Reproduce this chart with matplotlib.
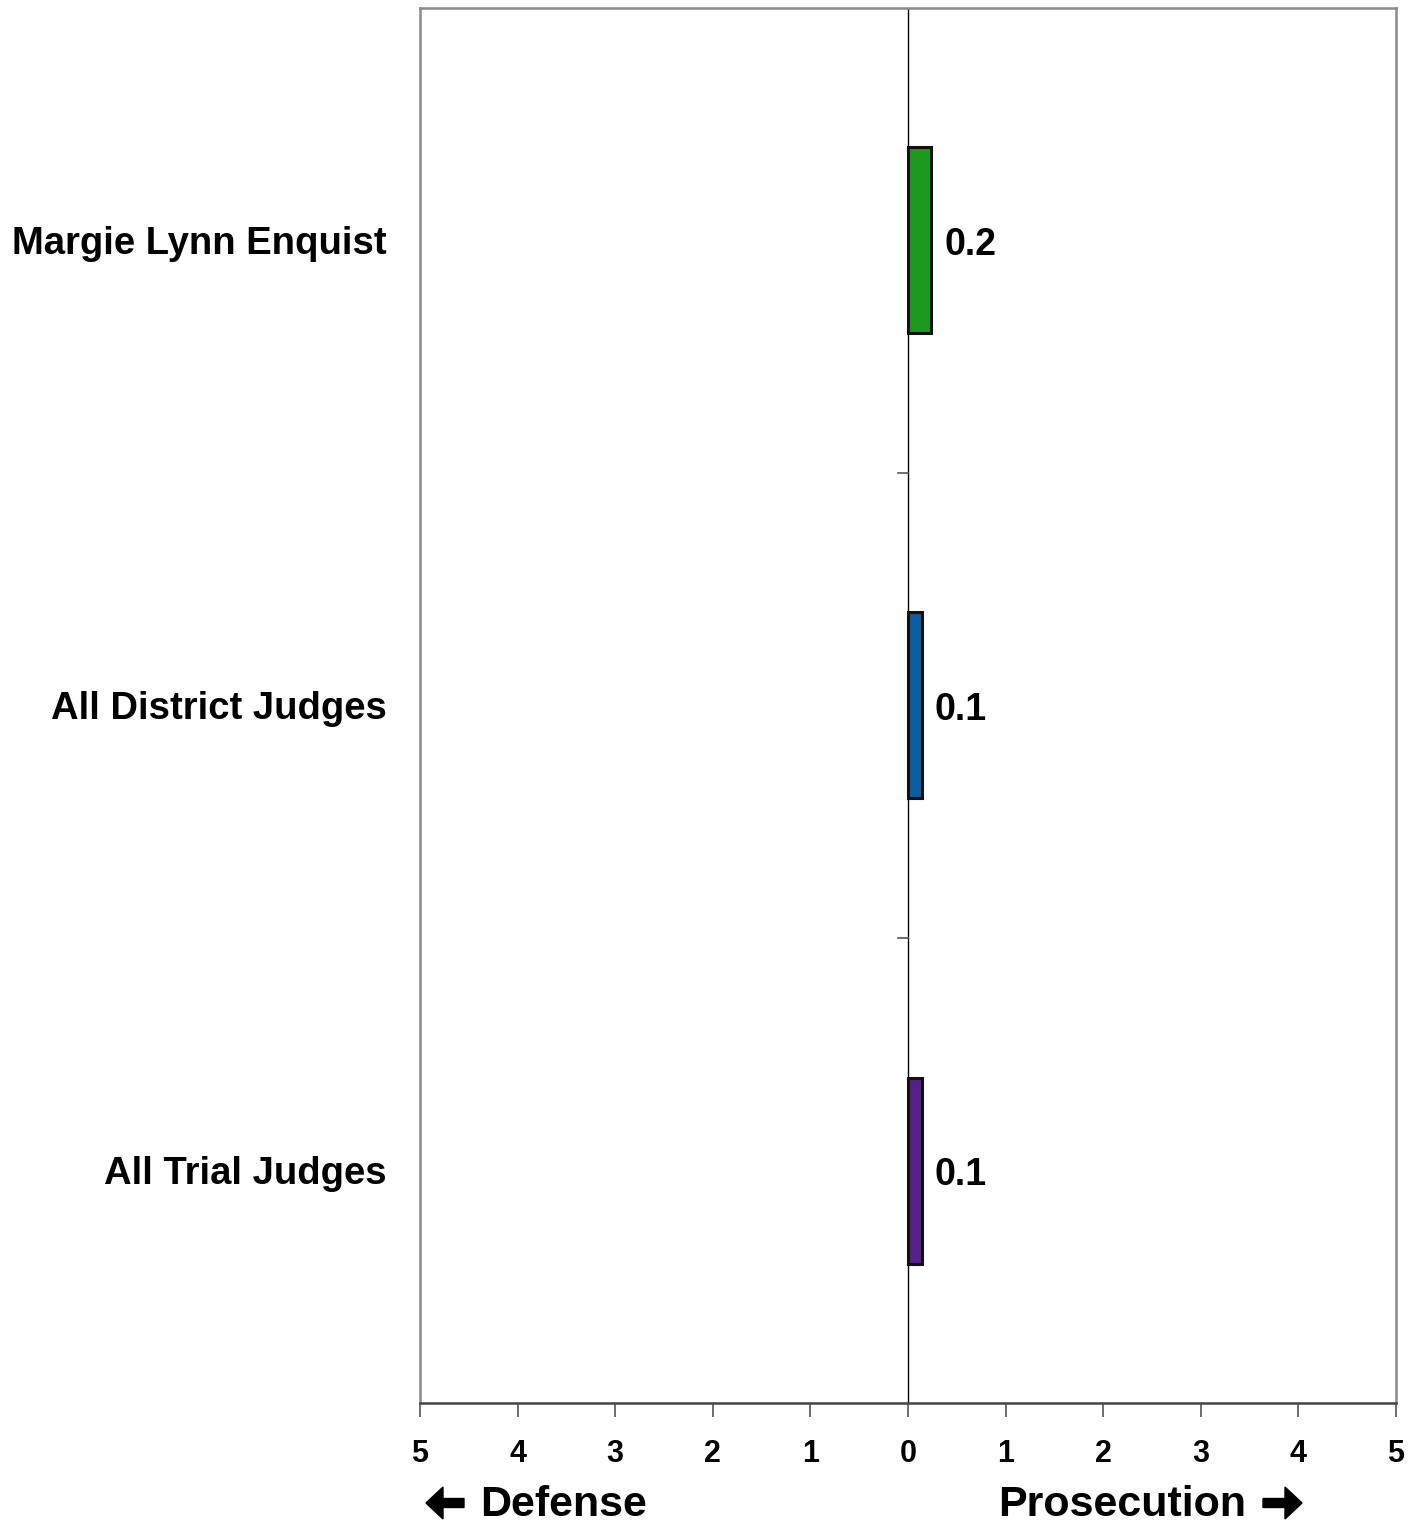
import matplotlib
matplotlib.use("Agg")
from matplotlib import pyplot as plt
from matplotlib.patches import FancyArrow
import numpy as np

plt.rcParams["font.family"] = ["Liberation Sans", "DejaVu Sans"]
plt.rcParams["font.weight"] = "bold"

judges = ["Margie Lynn Enquist", "All District Judges", "All Trial Judges"]
scores = [0.24, 0.14, 0.14]
score_labels = ["0.2", "0.1", "0.1"]
bar_colors = ["#1d9a1d", "#0d5ca6", "#56208a"]
x_ticks = [-5, -4, -3, -2, -1, 0, 1, 2, 3, 4, 5]

W, H = 1413, 1524
fig = plt.figure(figsize=(W / 100, H / 100), dpi=100)
ax = fig.add_axes([420 / W, 1 - 1403 / H, 976 / W, 1395 / H])

y = np.arange(len(judges))[::-1]
ax.barh(y, scores, height=0.4, color=bar_colors, edgecolor="#111111", linewidth=2.2, zorder=3)

for yi, s, lbl in zip(y, scores, score_labels):
    ax.text(s + 0.13, yi - 0.01, lbl, va="center", ha="left", fontsize=27, fontweight="bold")

ax.set_xlim(-5, 5)
ax.set_ylim(-0.5, 2.5)
ax.axvline(0, color="black", linewidth=1.0, zorder=2)

# category separator ticks on the zero line
for sep in [0.5, 1.5]:
    ax.plot([-0.1, 0], [sep, sep], color="#555555", linewidth=1.2, zorder=2)

ax.set_xticks(x_ticks)
ax.set_xticklabels([str(abs(t)) for t in x_ticks], fontsize=22, fontweight="bold")
ax.tick_params(axis="x", length=10, width=1.2, color="#555555", pad=16)
ax.set_yticks(y)
ax.set_yticklabels(judges, fontsize=27.5, fontweight="bold")
ax.tick_params(axis="y", length=0, pad=24)

for side in ["left", "top", "right"]:
    ax.spines[side].set_color("#8a8a8a")
    ax.spines[side].set_linewidth(1.8)
ax.spines["bottom"].set_color("#444444")
ax.spines["bottom"].set_linewidth(1.8)

fig.text(480 / W, 1 - 1505 / H, "Defense", ha="left", va="center",
         fontsize=31, fontweight="bold")
fig.text(998 / W, 1 - 1505 / H, "Prosecution", ha="left", va="center",
         fontsize=31, fontweight="bold")

# heavy arrows next to the direction labels
ay = 1 - 1503 / H
fig.patches.append(FancyArrow(464 / W, ay, -38 / W, 0, width=9 / H, head_width=32 / H,
                              head_length=17 / W, length_includes_head=True,
                              color="black", transform=fig.transFigure, figure=fig))
fig.patches.append(FancyArrow(1263 / W, ay, 39 / W, 0, width=9 / H, head_width=32 / H,
                              head_length=17 / W, length_includes_head=True,
                              color="black", transform=fig.transFigure, figure=fig))

fig.savefig("out.png", dpi=100)
